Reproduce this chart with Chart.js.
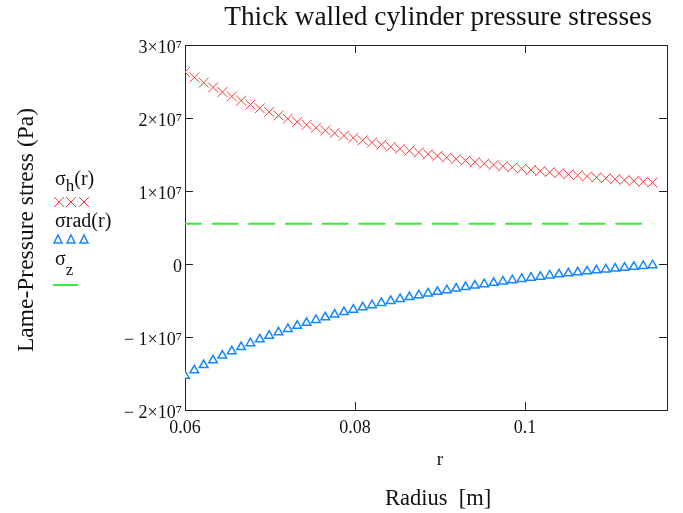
<!DOCTYPE html>
<html>
<head>
<meta charset="utf-8">
<script src="https://cdn.jsdelivr.net/npm/chart.js@4"></script>
<style>
  html, body { margin: 0; padding: 0; background: #fff; }
  #wrap { width: 683px; height: 513px; }
</style>
</head>
<body>
<div id="wrap"><canvas id="c" width="683" height="513"></canvas></div>
<script>
// radius r (m), one marker per value
const radius = [
  0.0600, 0.0611, 0.0622, 0.0633, 0.0644, 0.0655, 0.0666, 0.0677, 0.0688, 0.0699,
  0.0710, 0.0721, 0.0732, 0.0743, 0.0754, 0.0765, 0.0776, 0.0787, 0.0798, 0.0809,
  0.0820, 0.0831, 0.0842, 0.0853, 0.0864, 0.0875, 0.0886, 0.0897, 0.0908, 0.0919,
  0.0930, 0.0941, 0.0952, 0.0963, 0.0974, 0.0985, 0.0996, 0.1007, 0.1018, 0.1029,
  0.1040, 0.1051, 0.1062, 0.1073, 0.1084, 0.1095, 0.1106, 0.1117, 0.1128, 0.1139,
  0.1150
];
// hoop stress sigma_h(r), units of 1e6 Pa
const sigmaH = [
  26.30, 25.56, 24.85, 24.19, 23.55, 22.95, 22.38, 21.84, 21.32, 20.83,
  20.35, 19.90, 19.47, 19.06, 18.67, 18.30, 17.93, 17.59, 17.26, 16.94,
  16.64, 16.34, 16.06, 15.79, 15.53, 15.28, 15.04, 14.81, 14.58, 14.37,
  14.16, 13.96, 13.76, 13.57, 13.39, 13.22, 13.05, 12.88, 12.73, 12.57,
  12.42, 12.28, 12.14, 12.00, 11.87, 11.75, 11.62, 11.50, 11.39, 11.27,
  11.16
];
// radial stress sigma_rad(r), units of 1e6 Pa
const sigmaRad = [
  -15.30, -14.56, -13.85, -13.19, -12.55, -11.95, -11.38, -10.84, -10.32, -9.83,
  -9.35, -8.90, -8.47, -8.06, -7.67, -7.30, -6.93, -6.59, -6.26, -5.94,
  -5.64, -5.34, -5.06, -4.79, -4.53, -4.28, -4.04, -3.81, -3.58, -3.37,
  -3.16, -2.96, -2.76, -2.57, -2.39, -2.22, -2.05, -1.88, -1.73, -1.57,
  -1.42, -1.28, -1.14, -1.00, -0.87, -0.75, -0.62, -0.50, -0.39, -0.27,
  -0.16
];
// axial stress sigma_z, units of 1e6 Pa
const sigmaZ = 5.5;

const xTicks = [0.06, 0.08, 0.1];
const xTickLabels = ['0.06', '0.08', '0.1'];
const yTicks = [-20, -10, 0, 10, 20, 30];
const yTickLabels = ['\u2212 2\u00d710\u2077', '\u2212 1\u00d710\u2077', '0', '1\u00d710\u2077', '2\u00d710\u2077', '3\u00d710\u2077'];

const RED = 'rgb(255,55,55)';
const BLUE = 'rgb(20,135,255)';
const GREEN = 'rgb(55,235,55)';
const SERIF = '"Liberation Serif", "Times New Roman", serif';

const hPoints = radius.map((r, i) => ({ x: r, y: sigmaH[i] }));
const radPoints = radius.map((r, i) => ({ x: r, y: sigmaRad[i] }));
const zPoints = [
  { x: radius[0], y: sigmaZ },
  { x: radius[radius.length - 1], y: sigmaZ }
];

function txt(ctx, s, x, y, size, align) {
  ctx.font = size + 'px ' + SERIF;
  ctx.textAlign = align || 'left';
  ctx.fillText(s, x, y);
  return ctx.measureText(s).width;
}

const decor = {
  id: 'decor',
  beforeDatasetsDraw(chart) {
    const { ctx, chartArea: a, scales } = chart;
    ctx.save();
    ctx.strokeStyle = '#222';
    ctx.lineWidth = 1;
    ctx.strokeRect(a.left + 0.5, a.top + 0.5, a.right - a.left, a.bottom - a.top);
    ctx.beginPath();
    xTicks.forEach(v => {
      const px = Math.round(scales.x.getPixelForValue(v)) + 0.5;
      ctx.moveTo(px, a.bottom); ctx.lineTo(px, a.bottom - 8);
      ctx.moveTo(px, a.top); ctx.lineTo(px, a.top + 8);
    });
    yTicks.forEach(v => {
      const py = Math.round(scales.y.getPixelForValue(v)) + 0.5;
      ctx.moveTo(a.left, py); ctx.lineTo(a.left + 8, py);
      ctx.moveTo(a.right, py); ctx.lineTo(a.right - 8, py);
    });
    ctx.stroke();
    ctx.restore();
  },
  afterDraw(chart) {
    const { ctx } = chart;
    ctx.save();
    ctx.fillStyle = '#111';
    ctx.textBaseline = 'alphabetic';
    txt(ctx, 'Thick walled cylinder pressure stresses', 438, 25, 27.3, 'center');
    txt(ctx, 'r', 440, 465, 19, 'center');
    txt(ctx, 'Radius  [m]', 438, 505, 22.5, 'center');

    ctx.save();
    ctx.translate(33, 230);
    ctx.rotate(-Math.PI / 2);
    txt(ctx, 'Lame-Pressure stress (Pa)', 0, 0, 23.5, 'center');
    ctx.restore();

    // legend
    let w = txt(ctx, '\u03c3', 55, 185, 20);
    w += txt(ctx, 'h', 55 + w, 191, 17);
    txt(ctx, '(r)', 55 + w, 185, 20);
    txt(ctx, '\u03c3rad(r)', 55, 227, 20);
    w = txt(ctx, '\u03c3', 55, 265, 20);
    txt(ctx, 'z', 55 + w, 275, 17);

    ctx.lineWidth = 1;
    ctx.strokeStyle = RED;
    [59, 71, 84].forEach(cx => {
      ctx.beginPath();
      ctx.moveTo(cx - 5, 197); ctx.lineTo(cx + 5, 207);
      ctx.moveTo(cx + 5, 197); ctx.lineTo(cx - 5, 207);
      ctx.stroke();
    });
    ctx.strokeStyle = BLUE;
    ctx.lineWidth = 1.5;
    [58, 71, 84].forEach(cx => {
      ctx.beginPath();
      ctx.moveTo(cx, 235); ctx.lineTo(cx + 4, 243); ctx.lineTo(cx - 4, 243);
      ctx.closePath();
      ctx.stroke();
    });
    ctx.strokeStyle = GREEN;
    ctx.lineWidth = 2;
    ctx.beginPath();
    ctx.moveTo(53, 285); ctx.lineTo(78, 285);
    ctx.stroke();
    ctx.restore();
  }
};

new Chart(document.getElementById('c'), {
  type: 'scatter',
  data: {
    datasets: [
      {
        label: 'sigma_h(r)',
        data: hPoints,
        pointStyle: 'crossRot',
        pointRadius: 7,
        pointBorderWidth: 1,
        borderColor: RED,
        backgroundColor: RED,
        showLine: false
      },
      {
        label: 'sigma_rad(r)',
        data: radPoints,
        pointStyle: 'triangle',
        pointRadius: 5,
        pointBorderWidth: 1.5,
        borderColor: BLUE,
        backgroundColor: '#fff',
        showLine: false
      },
      {
        label: 'sigma_z',
        data: zPoints,
        showLine: true,
        pointRadius: 0,
        borderColor: GREEN,
        borderWidth: 2,
        borderDash: [26.7, 10],
        borderDashOffset: 10
      }
    ]
  },
  options: {
    responsive: false,
    animation: false,
    layout: { padding: { left: 0, top: 45, right: 16, bottom: 0 } },
    plugins: {
      legend: { display: false },
      title: { display: false },
      tooltip: { enabled: false }
    },
    scales: {
      x: {
        type: 'linear',
        min: 0.06,
        max: 0.1167,
        afterFit(s) { s.height = 103; },
        afterBuildTicks(s) { s.ticks = xTicks.map(v => ({ value: v })); },
        border: { display: false },
        grid: { display: false, drawTicks: false },
        ticks: {
          padding: 7,
          maxRotation: 0,
          color: '#111',
          font: { family: SERIF, size: 18 },
          callback: (v) => xTickLabels[xTicks.indexOf(v)]
        }
      },
      y: {
        type: 'linear',
        min: -20,
        max: 30,
        afterFit(s) { s.width = 185; },
        afterBuildTicks(s) { s.ticks = yTicks.map(v => ({ value: v })); },
        border: { display: false },
        grid: { display: false, drawTicks: false },
        ticks: {
          padding: 3,
          labelOffset: 3,
          color: '#111',
          font: { family: SERIF, size: 18 },
          callback: (v) => yTickLabels[yTicks.indexOf(v)]
        }
      }
    }
  },
  plugins: [decor]
});
</script>
</body>
</html>
